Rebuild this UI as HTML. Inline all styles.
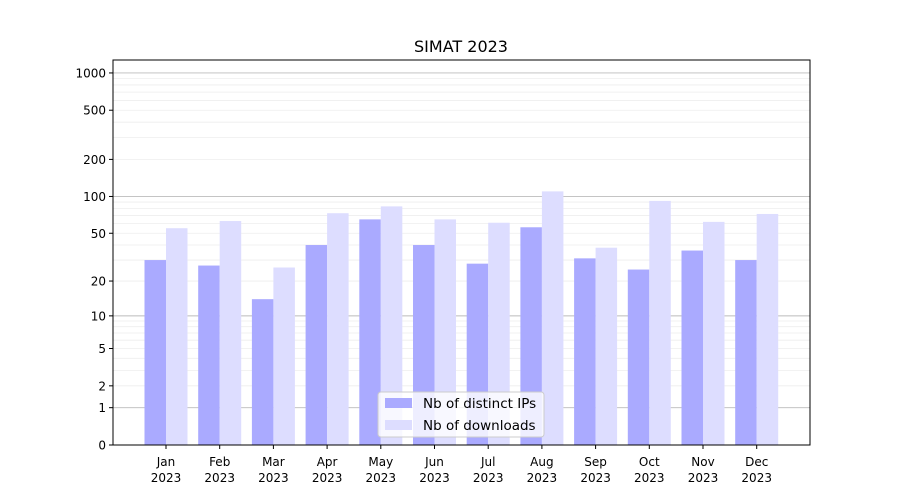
<!DOCTYPE html>
<html><head><meta charset="utf-8"><style>
body{margin:0;background:#fff;font-family:"DejaVu Sans","Liberation Sans",sans-serif}
svg text{font-family:"DejaVu Sans","Liberation Sans",sans-serif}
</style></head><body>
<svg id="chart" width="900" height="500" xmlns="http://www.w3.org/2000/svg">
<rect width="900" height="500" fill="#fff"/>
<text x="461" y="52" font-size="16" text-anchor="middle">SIMAT 2023</text>
<g id="grid"></g><g id="bars"></g><g id="axes"></g>
</svg>
<script>
const months=["Jan","Feb","Mar","Apr","May","Jun","Jul","Aug","Sep","Oct","Nov","Dec"];
const ips=[30,27,14,40,65,40,28,56,31,25,36,30];
const downloads=[55,63,26,73,83,65,61,110,38,92,62,72];
const yTicks=[0,1,2,5,10,20,50,100,200,500,1000];
const L=113,R=810,T=60,B=445;
const NS="http://www.w3.org/2000/svg";
function y(v){return B-124*Math.log10(v+1);}
function x(i){return 166+i*53.7;}
function mk(tag,attrs,parent,txt){const e=document.createElementNS(NS,tag);for(const k in attrs)e.setAttribute(k,attrs[k]);if(txt!==undefined)e.textContent=txt;document.getElementById(parent).appendChild(e);return e;}
for(const d of [1,10,100,1000]){for(let m=1;m<10;m++){const v=d*m;if(v>1200)break;const yy=y(v);if(yy<T)continue;
const g=mk('line',{x1:L,x2:R,y1:yy,y2:yy,stroke:m===1?'#bbb':'#eee','stroke-width':m===1?0.9:0.8},'grid');

}}
const bw=21.5;
months.forEach((mo,i)=>{
const a=mk('rect',{x:x(i)-bw,y:y(ips[i]),width:bw,height:B-y(ips[i]),fill:'#aaaaff'},'bars');


const b=mk('rect',{x:x(i),y:y(downloads[i]),width:bw,height:B-y(downloads[i]),fill:'#ddddff'},'bars');


mk('line',{x1:x(i),x2:x(i),y1:B,y2:B+4,stroke:'#000'},'axes');
const t=mk('text',{x:x(i),y:B+21,'font-size':12,'text-anchor':'middle'},'axes',mo);


const t2=mk('text',{x:x(i),y:B+37,'font-size':12,'text-anchor':'middle'},'axes','2023');


});
yTicks.forEach(v=>{const yy=y(v);
mk('line',{x1:L-4,x2:L,y1:yy,y2:yy,stroke:'#000'},'axes');
const t=mk('text',{x:L-7,y:yy+4.5,'font-size':12,'text-anchor':'end'},'axes',String(v));

});
const f=mk('rect',{x:L,y:T,width:R-L,height:B-T,fill:'none',stroke:'#000','stroke-width':1},'axes');


const lg=mk('rect',{x:378,y:392,width:166,height:45,rx:3,fill:'#fff','fill-opacity':0.8,stroke:'#ccc'},'axes');


mk('rect',{x:385,y:398,width:27,height:10,fill:'#aaaaff'},'axes');
mk('rect',{x:385,y:420,width:27,height:10,fill:'#ddddff'},'axes');
const l1=mk('text',{x:423,y:408,'font-size':13.5},'axes','Nb of distinct IPs');


const l2=mk('text',{x:423,y:430,'font-size':13.5},'axes','Nb of downloads');


</script>
</body></html>
